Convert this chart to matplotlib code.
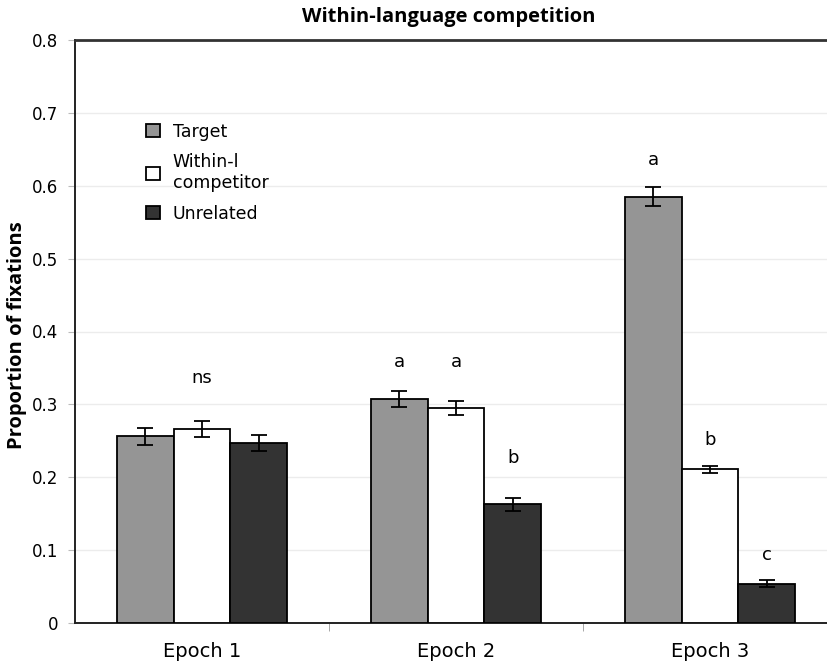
import matplotlib
matplotlib.use("Agg")
import matplotlib.pyplot as plt
from matplotlib.patches import Patch
import numpy as np

epochs = ["Epoch 1", "Epoch 2", "Epoch 3"]
series = ["Target", "Within-l\ncompetitor", "Unrelated"]
target = [0.256, 0.307, 0.585]
within = [0.266, 0.295, 0.211]
unrelated = [0.247, 0.163, 0.054]
target_err = [0.012, 0.011, 0.013]
within_err = [0.011, 0.009, 0.005]
unrelated_err = [0.011, 0.009, 0.005]
letters_target = ["", "a", "a"]
letters_within = ["ns", "a", "b"]
letters_unrelated = ["", "b", "c"]
letter_y_target = [0.0, 0.358, 0.635]
letter_y_within = [0.336, 0.358, 0.251]
letter_y_unrelated = [0.0, 0.226, 0.093]
yticks = [0, 0.1, 0.2, 0.3, 0.4, 0.5, 0.6, 0.7, 0.8]
ytick_labels = ["0", "0.1", "0.2", "0.3", "0.4", "0.5", "0.6", "0.7", "0.8"]

colors = ["#959595", "#ffffff", "#333333"]

fig = plt.figure(figsize=(8.27, 6.66), dpi=100)
ax = fig.add_axes([75/827, 43/666, 762/827, 583/666])

x = np.arange(len(epochs))
w = 0.224
vals = [target, within, unrelated]
errs = [target_err, within_err, unrelated_err]
lets = [letters_target, letters_within, letters_unrelated]
lys = [letter_y_target, letter_y_within, letter_y_unrelated]
for i, (v, e, c, l, ly) in enumerate(zip(vals, errs, colors, lets, lys)):
    pos = x + (i - 1) * w
    ax.bar(pos, v, width=w, color=c, edgecolor="black", linewidth=1.3, zorder=3)
    ax.errorbar(pos, v, yerr=e, fmt="none", ecolor="black", elinewidth=1.3,
                capsize=5.5, capthick=1.3, zorder=4)
    for p, yy, txt in zip(pos, ly, l):
        if txt:
            ax.text(p, yy, txt, ha="center", va="center", fontsize=13,
                    family="DejaVu Sans")

ax.set_xlim(-0.5, 2.5)
ax.set_ylim(0, 0.8)
ax.set_yticks(yticks)
ax.set_yticklabels(ytick_labels, fontsize=12)
ax.set_xticks(x)
ax.set_xticklabels(epochs, fontsize=14)
ax.set_xticks([0.5, 1.5], minor=True)
ax.tick_params(axis="x", which="major", length=0, pad=14)
ax.tick_params(axis="x", which="minor", length=6, color="#999999", direction="out")
ax.tick_params(axis="y", length=5, color="#bbbbbb", pad=7)
ax.grid(axis="y", color="#ececec", linewidth=1.0, zorder=0)
ax.set_axisbelow(True)

for s in ["left", "bottom"]:
    ax.spines[s].set_linewidth(1.4)
    ax.spines[s].set_color("#222222")
ax.spines["top"].set_linewidth(2.0)
ax.spines["top"].set_color("#333333")
ax.spines["right"].set_visible(False)

handles = [Patch(facecolor=c, edgecolor="black", linewidth=1.3) for c in colors]
leg = ax.legend(handles, series, loc="upper left", bbox_to_anchor=(0.093, 0.858),
                frameon=False, fontsize=12.5, handlelength=0.8, handleheight=0.8,
                handletextpad=0.75, labelspacing=0.72, borderpad=0, borderaxespad=0)

fig.text(449/827, 1 - 17/666, "Within-language competition", ha="center", va="center",
         fontsize=14.5, fontweight="bold", family="Open Sans")
fig.text(17/827, 1 - 335/666, "Proportion of fixations", ha="center", va="center",
         rotation=90, fontsize=14.5, fontweight="bold", family="Open Sans")

fig.savefig("out.png", dpi=100)
